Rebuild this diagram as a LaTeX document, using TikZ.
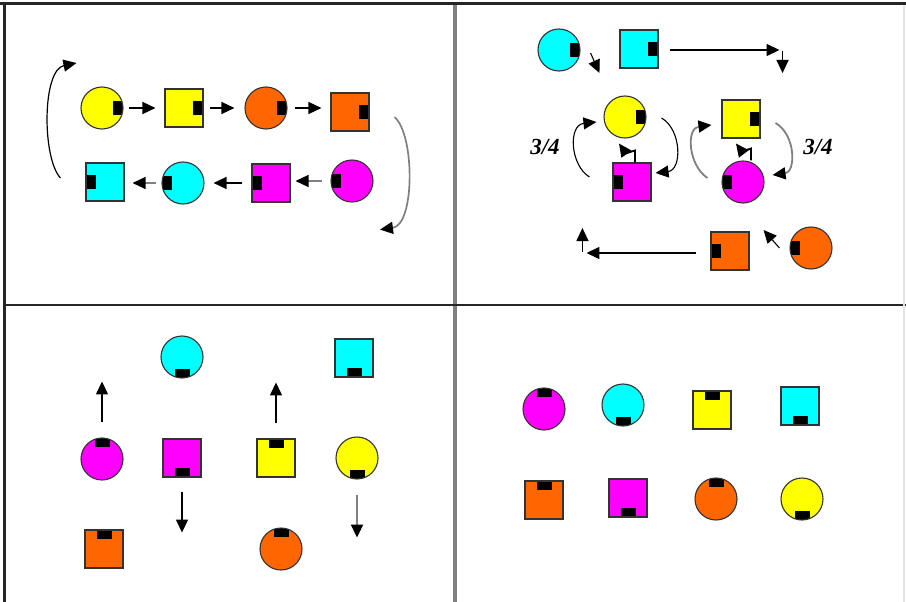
\documentclass[tikz,border=0pt]{standalone}
\usepackage{fontspec}
\setmainfont{Liberation Serif}
\usepackage{tikz}
\usetikzlibrary{arrows.meta}
\definecolor{yel}{RGB}{255,255,0}
\definecolor{org}{RGB}{255,102,0}
\definecolor{cya}{RGB}{0,255,255}
\definecolor{mag}{RGB}{255,0,255}

\begin{document}
\begin{tikzpicture}[x=1pt, y=-1pt,
    piece/.style={draw=black!80, line width=1.1pt, fill=#1, inner sep=0pt},
    circ/.style={piece=#1, circle, minimum size=42pt},
    sq/.style={piece=#1, rectangle, minimum size=38pt},
    tabE/.style={path picture={\fill[black] ([xshift=-10pt,yshift=-7pt]path picture bounding box.east)
                 rectangle ([yshift=7pt]path picture bounding box.east);}},
    tabW/.style={path picture={\fill[black] ([yshift=-7pt]path picture bounding box.west)
                 rectangle ([xshift=10pt,yshift=7pt]path picture bounding box.west);}},
    tabN/.style={path picture={\fill[black] ([xshift=-7.5pt,yshift=-9pt]path picture bounding box.north)
                 rectangle ([xshift=7.5pt]path picture bounding box.north);}},
    tabS/.style={path picture={\fill[black] ([xshift=-7.5pt]path picture bounding box.south)
                 rectangle ([xshift=7.5pt,yshift=9pt]path picture bounding box.south);}},
    arr/.style={-{Triangle[length=13pt,width=12pt]}, line width=1.4pt},
    garr/.style={-{Triangle[length=13pt,width=12pt,color=black]}, line width=1.4pt, gray},
    frac/.style={font=\fontsize{23}{23}\selectfont\bfseries\itshape}
  ]
    \useasboundingbox (0,0) rectangle (906,602);

    %% FRAME
    \draw[line width=3pt, black!85] (0,3.5) -- (906,3.5);
    \draw[line width=3pt, black!85] (4.5,3.5) -- (4.5,602);
    \draw[line width=4pt, gray] (455,5) -- (455,602);
    \draw[line width=2.5pt, black!85] (6,305) -- (906,305);
    \draw[line width=2pt, black!10] (904,5) -- (904,602);

    %% TOP LEFT: RING OF EIGHT
    \node[circ=yel, tabE] (yc1) at (102,108) {};
    \node[sq=yel, tabE] (ys1) at (184,108) {};
    \node[circ=org, tabE] (oc1) at (266,108) {};
    \node[sq=org, tabE] (os1) at (350,112) {};
    \node[sq=cya, tabW] (cs1) at (105,182) {};
    \node[circ=cya, tabW] (cc1) at (183,183) {};
    \node[sq=mag, tabW] (ms1) at (271,183) {};
    \node[circ=mag, tabW] (mc1) at (352,181) {};

    \draw[arr, shorten <=5pt, shorten >=9pt] (yc1.east) -- (ys1.west);
    \draw[arr, shorten <=6pt, shorten >=10pt] (ys1.east) -- (ys1.east -| oc1.west);
    \draw[arr, shorten <=7pt, shorten >=9pt] (oc1.east) -- (oc1.east -| os1.west);
    \draw[garr, shorten <=8pt, shorten >=5pt] (mc1.west) -- (mc1.west -| ms1.east);
    \draw[arr, shorten <=9pt, shorten >=9pt] (ms1.west) -- (ms1.west -| cc1.east);
    \draw[garr, shorten <=5pt, shorten >=8pt] (cc1.west) -- (cc1.west -| cs1.east);
    \draw[arr, line width=1.2pt] ([xshift=-25pt,yshift=4pt]cs1.west)
      .. controls (42,158) and (42,70) .. ([xshift=-4pt,yshift=45pt]yc1.west);
    \draw[garr, line width=1.7pt] ([xshift=25pt,yshift=-5pt]os1.east)
      .. controls (415,135) and (415,225) .. ([xshift=28pt,yshift=-27pt]mc1.south);

    %% TOP RIGHT: SWAPS
    \node[circ=cya, tabE] (cc2) at (559,50) {};
    \node[sq=cya, tabE] (cs2) at (639,49) {};
    \node[circ=yel, tabE] (yc2) at (625,117) {};
    \node[sq=mag, tabW] (ms2) at (632,182) {};
    \node[sq=yel, tabE] (ys2) at (741,119) {};
    \node[circ=mag, tabW] (mc2) at (743,182) {};
    \node[sq=org, tabW] (os2) at (730,251) {};
    \node[circ=org, tabW] (oc2) at (811,248) {};
    \node[frac] (frac1) at (545,147) {3/4};
    \node[frac] (frac2) at (818,147) {3/4};

    \draw[arr, line width=1.1pt] ([xshift=10pt,yshift=-3pt]cc2.east) -- ([xshift=-20pt,yshift=-24pt]cs2.west);
    \draw[arr] ([xshift=11pt,yshift=-1pt]cs2.east) -- ++(110,0);
    \draw[arr] ([xshift=124pt,yshift=-2pt]cs2.east) -- ++(0,22);
    \draw[arr, line width=1.1pt] ([xshift=-23pt,yshift=5pt]ms2.west)
      .. controls (570,165) and (568,125) .. ([xshift=-7pt,yshift=-5pt]yc2.west);
    \draw[arr, line width=1.1pt] ([xshift=15pt,yshift=-1pt]yc2.east)
      .. controls (682,130) and (682,170) .. ([xshift=4pt,yshift=9pt]ms2.east);
    \draw[arr, line width=1.8pt] ([xshift=3pt]ms2.north) -- ++(0,-12) -- ++(-9,3) -- ([xshift=-6pt,yshift=-5pt]yc2.south);
    \draw[garr, line width=1.8pt] ([xshift=-14pt,yshift=4pt]mc2.west)
      .. controls (688,165) and (686,128) .. ([xshift=-10pt,yshift=-6pt]ys2.west);
    \draw[garr, line width=1.8pt] ([xshift=15pt,yshift=-4pt]ys2.east)
      .. controls (796,135) and (796,172) .. ([xshift=8pt,yshift=7pt]mc2.east);
    \draw[arr, line width=1.8pt] ([xshift=8pt]mc2.north) -- ++(0,-12) -- ++(-9,3) -- ([xshift=-5pt,yshift=-5pt]ys2.south);
    \draw[arr, line width=1.1pt] ([xshift=-10pt]oc2.west) -- ([xshift=14pt,yshift=21pt]os2.east);
    \draw[arr] ([xshift=-14pt,yshift=-2pt]os2.west) -- ++(-110,0);
    \draw[arr] ([xshift=-128pt,yshift=-1pt]os2.west) -- ++(0,-24);

    %% BOTTOM LEFT: SPLIT
    \node[circ=cya, tabS] (cc3) at (182,357) {};
    \node[sq=cya, tabS] (cs3) at (354,358) {};
    \node[circ=mag, tabN] (mc3) at (102,459) {};
    \node[sq=mag, tabS] (ms3) at (182,458) {};
    \node[sq=yel, tabN] (ys3) at (276,458) {};
    \node[circ=yel, tabS] (yc3) at (357,458) {};
    \node[sq=org, tabN] (os3) at (104,549) {};
    \node[circ=org, tabN] (oc3) at (281,549) {};

    \draw[arr] ([yshift=15pt]mc3.north) -- ++(0,-41);
    \draw[arr] ([yshift=15pt]ys3.north) -- ++(0,-41);
    \draw[arr] ([yshift=-14pt]ms3.south) -- ++(0,41);
    \draw[garr, line width=2pt] ([yshift=-15pt]yc3.south) -- ++(0,43);

    %% BOTTOM RIGHT: RESULT
    \node[circ=mag, tabN] (mc4) at (544,409) {};
    \node[circ=cya, tabS] (cc4) at (623,405) {};
    \node[sq=yel, tabN] (ys4) at (712,410) {};
    \node[sq=cya, tabS] (cs4) at (800,406) {};
    \node[sq=org, tabN] (os4) at (544,500) {};
    \node[sq=mag, tabS] (ms4) at (628,498) {};
    \node[circ=org, tabN] (oc4) at (716,499) {};
    \node[circ=yel, tabS] (yc4) at (802,499) {};
\end{tikzpicture}
\end{document}
